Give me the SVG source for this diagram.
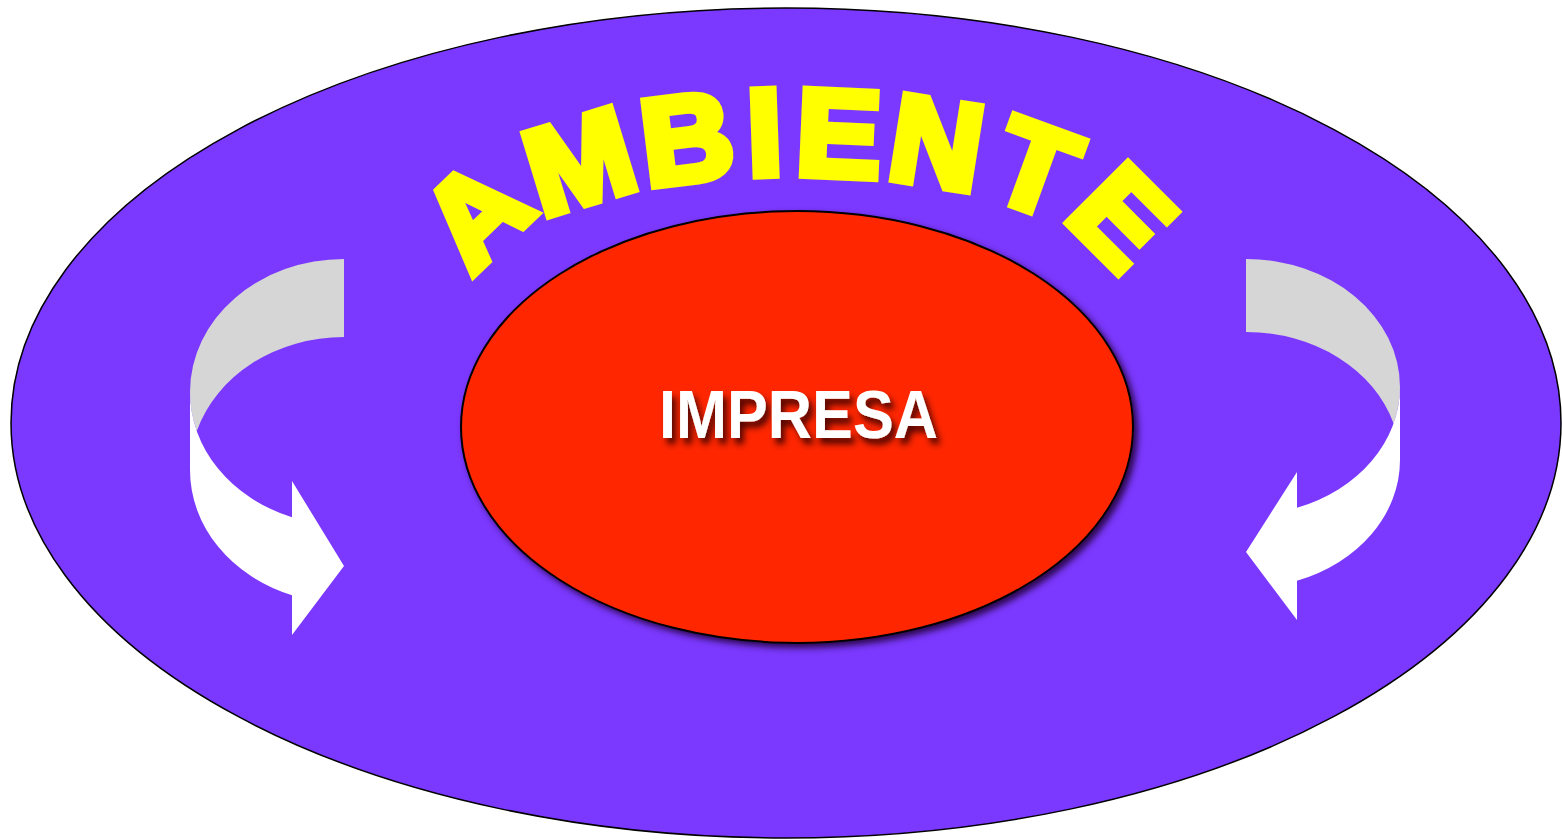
<svg xmlns="http://www.w3.org/2000/svg" width="1562" height="840" viewBox="0 0 1562 840">
<defs>
<style>
.amb{font-family:"Liberation Sans",Arial,sans-serif;font-weight:bold;font-size:115px;fill:#FFFF00;stroke:#FFFF00;stroke-width:8;stroke-linejoin:miter;text-anchor:middle}
.imp{font-family:"Liberation Sans",Arial,sans-serif;font-weight:bold;font-size:68px;fill:#FFFFFF;text-anchor:middle}
.back{fill:#D6D6D6}
.front{fill:#FFFFFF}
</style>
<filter id="ellShadow" x="-10%" y="-10%" width="125%" height="125%">
<feDropShadow dx="4" dy="4" stdDeviation="3" flood-color="#1a0030" flood-opacity="0.85"/>
</filter>
<filter id="txtShadow" x="-10%" y="-20%" width="125%" height="160%">
<feDropShadow dx="4" dy="6" stdDeviation="3" flood-color="#300000" flood-opacity="0.85"/>
</filter>
</defs>
<g id="ambiente">
<ellipse cx="786" cy="423" rx="775" ry="415" fill="#7B38FE" stroke="#000" stroke-width="1.5"/>
<g id="ambiente-label">
<text class="amb" transform="translate(505,244) rotate(-44) scale(1.12,1.07)">A</text>
<text class="amb" transform="translate(592,202) rotate(-17) scale(1.1,1.07)">M</text>
<text class="amb" transform="translate(692,181) rotate(-7) scale(1.1,1.07)">B</text>
<text class="amb" transform="translate(766,175) rotate(-2) scale(1.1,1.07)">I</text>
<text class="amb" transform="translate(837,176) rotate(2.5) scale(1.1,1.07)">E</text>
<text class="amb" transform="translate(930,185) rotate(9) scale(1.1,1.07)">N</text>
<text class="amb" transform="translate(1021,208) rotate(20) scale(1.1,1.07)">T</text>
<text class="amb" transform="translate(1092,247) rotate(45) scale(1.1,1.07)">E</text>
</g>
</g>
<g id="impresa">
<ellipse cx="797" cy="427" rx="336" ry="216" fill="#FF2600" stroke="#000" stroke-width="2" filter="url(#ellShadow)"/>
<text class="imp" x="798.5" y="438" textLength="279" lengthAdjust="spacingAndGlyphs" filter="url(#txtShadow)">IMPRESA</text>
</g>
<g id="connectors">
<g id="arrow-left">
<path class="back" d="M344,259 A154,133 0 0 0 190,392 A154,133 0 0 0 196.8,431 A154,133 0 0 1 344,337 Z"/>
<path class="front" d="M190,392 L190,470 A154,133 0 0 0 292,595.2 L292,635 L344,566 L292,481 L292,517.2 A154,133 0 0 1 190,392 Z"/>
</g>
<g id="arrow-right">
<path class="back" d="M1246,259 A154,128 0 0 1 1400,387 A154,128 0 0 1 1393.6,423.5 A154,128 0 0 0 1246,332 Z"/>
<path class="front" d="M1400,387 L1400,460 A154,128 0 0 1 1297,580.8 L1297,620 L1246,552 L1297,472 L1297,507.8 A154,128 0 0 0 1400,387 Z"/>
</g>
</g>
</svg>
